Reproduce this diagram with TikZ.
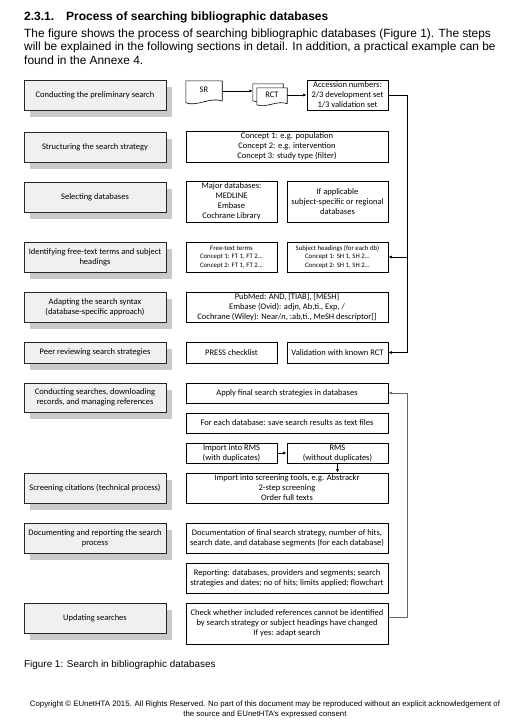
\documentclass[tikz,border=0pt]{standalone}
\usepackage{fontspec}
\setmainfont{Liberation Sans}
\newfontfamily\figfont{Carlito}
\usetikzlibrary{arrows.meta, calc}

% outline of a document sheet round a node
\newcommand{\docwave}[2]{%
	\filldraw[fill=white, draw=black, line width=0.6pt]
		([yshift=-#2pt]#1.south east) -- (#1.north east) -- (#1.north west)
		-- ([yshift=-1.8*#2pt]#1.south west)
		.. controls ([xshift=10pt,yshift=-4*#2pt]#1.south west) and ([xshift=-10pt,yshift=1.5*#2pt]#1.south east)
		.. ([yshift=-#2pt]#1.south east);}

\begin{document}
\begin{tikzpicture}[x=1pt, y=-1pt, font=\figfont\fontsize{8.5}{10}\selectfont,
	task/.style={rectangle, draw=black!85, line width=0.9pt, fill=black!6, minimum width=142pt,
		minimum height=30pt, inner sep=0.5pt, align=center},
	info/.style={rectangle, draw=black, line width=0.7pt, fill=white, minimum height=30pt,
		inner sep=0.5pt, align=center},
	wide/.style={info, minimum width=202pt},
	half/.style={info, minimum width=91pt},
	halfr/.style={info, minimum width=101pt},
	sheet/.style={inner sep=0pt, minimum width=#1},
	boxshadow/.style={fill=black!21, draw=none},
	fl/.style={-{Latex[length=3.5pt, width=3pt]}, line width=0.7pt}]
	\useasboundingbox (0,0) rectangle (522,721);

	% heading and intro text
	\node[anchor=base west, inner sep=0pt, font=\bfseries\fontsize{12}{14}\selectfont] (title) at (24,20)
		{\makebox[42pt][l]{2.3.1.}Process of searching bibliographic databases};
	\node[anchor=base west, inner sep=0pt, font=\fontsize{11.9}{13}\selectfont] (intro1) at (24,37)
		{The figure shows the process of searching bibliographic databases (Figure 1). The steps};
	\node[anchor=base west, inner sep=0pt, font=\fontsize{11.9}{13}\selectfont] (intro2) at (24,50.5)
		{will be explained in the following sections in detail. In addition, a practical example can be};
	\node[anchor=base west, inner sep=0pt, font=\fontsize{11.9}{13}\selectfont] (intro3) at (24,64)
		{found in the Annexe 4.};

	% shadows of the steps
	\foreach \yc/\hh in {95/30, 147/30, 197/30, 257/30, 307/30, 352.5/21, 397.5/29, 488/30, 538/30, 618/30}
		\fill[boxshadow] (30,\yc-\hh/2+7) rectangle (172,\yc+\hh/2+7);

	% steps
	\node[task] (prelim) at (95,95) {Conducting the preliminary search};
	\node[task] (struct) at (95,147) {Structuring the search strategy};
	\node[task] (select) at (95,197) {Selecting databases};
	\node[task] (ident) at (95,257) {Identifying free-text terms and subject\\headings};
	\node[task] (adapt) at (95,307) {Adapting the search syntax\\(database-specific approach)};
	\node[task, minimum height=21pt] (peer) at (95,352.5) {Peer reviewing search strategies};
	\node[task, minimum height=29pt] (conduct) at (95,397.5) {Conducting searches, downloading\\records, and managing references};
	\node[task] (screencit) at (95,488) {Screening citations (technical process)};
	\node[task] (document) at (95,538) {Documenting and reporting the search\\process};
	\node[task] (update) at (95,618) {Updating searches};

	% preliminary search
	\node[sheet=36pt, minimum height=18pt] (sr) at (204,90) {};
	\docwave{sr}{2}
	\node[inner sep=0pt] (srtext) at (sr) {SR};
	\node[sheet=30pt, minimum height=14pt] (rctb) at (268,91) {};
	\docwave{rctb}{1.5}
	\node[sheet=30pt, minimum height=14pt] (rct) at (272,95) {};
	\docwave{rct}{1.5}
	\node[inner sep=0pt] (rcttext) at (rct) {RCT};
	\node[info, minimum width=81pt] (acc) at (347.5,95) {Accession numbers:\\2/3 development set\\1/3 validation set};
	\draw[fl] (sr.east |- rctb.west) -- (rctb.west);
	\draw[fl] (rct.east) -- (rct.east -| acc.west);

	% strategy, databases, terms
	\node[wide, minimum height=31pt] (concepts) at (287,146.5) {Concept 1: e.g. population\\Concept 2: e.g. intervention\\Concept 3: study type (filter)};
	\node[half, minimum height=41pt] (major) at (231.5,201.5) {Major databases:\\MEDLINE\\Embase\\Cochrane Library};
	\node[halfr, minimum height=41pt] (ifapp) at (337.5,201.5) {If applicable\\subject-specific or regional\\databases};
	\node[half, font=\figfont\fontsize{6.8}{8.6}\selectfont] (free) at (231.5,257) {Free-text terms\\Concept 1: FT 1, FT 2...\\Concept 2: FT 1, FT 2...};
	\node[halfr, font=\figfont\fontsize{6.8}{8.6}\selectfont] (subj) at (337.5,257) {Subject headings (for each db)\\Concept 1: SH 1, SH 2...\\Concept 2: SH 1, SH 2...};
	\node[wide] (syntax) at (287,307) {PubMed: AND, [TIAB], [MESH]\\Embase (Ovid): adj\textit{n}, Ab,ti., Exp, /\\Cochrane (Wiley): Near/\textit{n}, :ab,ti., MeSH descriptor[]};
	\node[half, minimum height=21pt] (press) at (231.5,352.5) {PRESS checklist};
	\node[halfr, minimum height=21pt] (valid) at (337.5,352.5) {Validation with known RCT};

	% searches and screening
	\node[wide, minimum height=20pt] (apply) at (287,393) {Apply final search strategies in databases};
	\node[wide, minimum height=20pt] (save) at (287,423) {For each database: save search results as text files};
	\node[half, minimum height=20pt] (imp) at (231.5,453) {Import into RMS\\(with duplicates)};
	\node[halfr, minimum height=20pt] (rms) at (337.5,453) {RMS\\(without duplicates)};
	\node[wide] (screen) at (287,488) {Import into screening tools, e.g. Abstrackr\\2-step screening\\Order full texts};
	\draw[fl] (imp.east) -- (rms.west);
	\draw[fl] (rms.south) -- (rms.south |- screen.north);

	% documenting and updating
	\node[wide] (docu) at (287,538) {Documentation of final search strategy, number of hits,\\search date, and database segments (for each database)};
	\node[wide] (report) at (287,578) {Reporting: databases, providers and segments; search\\strategies and dates; no of hits; limits applied; flowchart};
	\node[wide, minimum height=41pt] (check) at (287,623.5) {Check whether included references cannot be identified\\by search strategy or subject headings have changed\\If yes: adapt search};

	% feedback lines
	\coordinate (lp) at (407,0);
	\draw[fl] (acc.east) -| (lp |- valid.east) -- (valid.east);
	\draw[fl] (lp |- subj.east) -- (subj.east);
	\draw[fl, black!60] ([yshift=6pt]check.east) -| (lp |- apply.east) -- (apply.east);

	% caption and footer
	\node[anchor=base west, inner sep=0pt, font=\fontsize{9.9}{11}\selectfont] (caption) at (24,667)
		{Figure 1: Search in bibliographic databases};
	\node[anchor=base, inner sep=0pt, font=\fontsize{7.8}{10}\selectfont, align=center] (copy) at (265,716)
		{Copyright \textcopyright{} EUnetHTA 2015. All Rights Reserved. No part of this document may be reproduced without an explicit acknowledgement of\\the source and EUnetHTA's expressed consent};
\end{tikzpicture}
\end{document}
